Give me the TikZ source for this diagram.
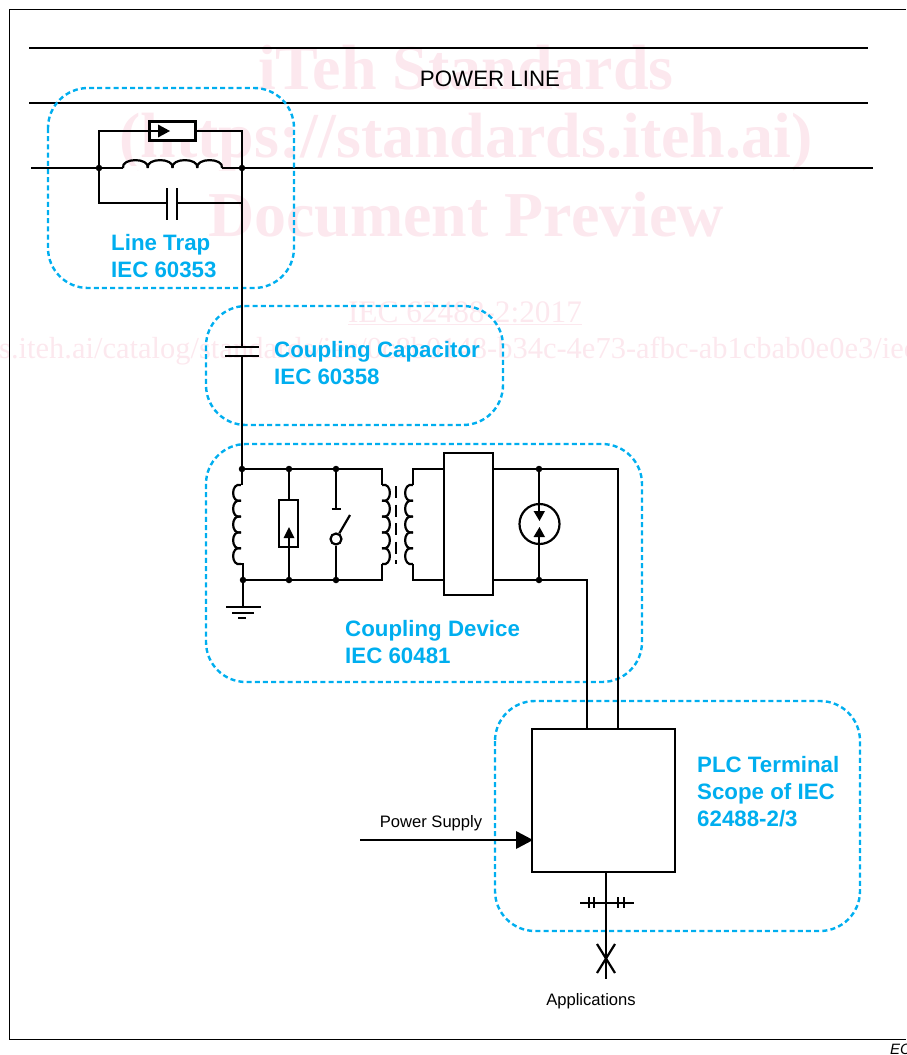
\documentclass[tikz,border=0pt]{standalone}
\usepackage{fontspec}
\setmainfont{Liberation Sans}
\newfontfamily\wmfont{Liberation Serif}
\usetikzlibrary{arrows.meta}
\definecolor{plcblue}{HTML}{00AEEF}
\definecolor{wm}{HTML}{FCE8EE}
\tikzset{
  wire/.style={draw=black,line width=2.2pt},
  junction/.style={circle,fill=black,inner sep=0pt,minimum size=6.5pt},
  zone/.style={draw=plcblue,line width=2.4pt,rounded corners=40pt,dash pattern=on 5pt off 3.2pt},
  zonelabel/.style={text=plcblue,font=\bfseries\fontsize{22.3}{27}\selectfont,align=left,anchor=north west,inner sep=0pt},
  plain/.style={font=\fontsize{16.6}{19}\selectfont,inner sep=0pt},
  whitebox/.style={draw=black,fill=white,line width=2.2pt,inner sep=0pt},
  wmbig/.style={text=wm,font=\wmfont\bfseries\fontsize{64}{64}\selectfont,inner sep=0pt},
  wmsmall/.style={text=wm,font=\wmfont\fontsize{31.3}{32}\selectfont,inner sep=0pt},
  wmurl/.style={text=wm,font=\wmfont\fontsize{30.5}{32}\selectfont,inner sep=0pt},
  tip/.style={fill=black,draw=none},
}
\newcommand{\humpsH}[4]{% x0,y,width,count  (humps go up)
  \foreach \k in {1,...,#4}{
    \draw[wire] ({#1+(\k-1)*#3},#2) .. controls ({#1+(\k-1)*#3-2},{#2-10.5}) and ({#1+\k*#3+2},{#2-10.5}) .. ({#1+\k*#3},#2);
  }}
\newcommand{\humpsV}[5]{% x,y0,height,count,bulge
  \foreach \k in {1,...,#4}{
    \draw[wire] (#1,{#2+(\k-1)*#3}) .. controls ({#1+#5},{#2+(\k-1)*#3-3}) and ({#1+#5},{#2+\k*#3+3}) .. (#1,{#2+\k*#3});
  }}
\begin{document}
\begin{tikzpicture}[x=1pt,y=-1pt]
\useasboundingbox (0,0) rectangle (906,1055);
\clip (0,0) rectangle (906,1055);
% watermark
\node[wmbig] (wm1) at (466,68) {iTeh Standards};
\node[wmbig] (wm2) at (466,142) {(https://standards.iteh.ai)};
\node[wmbig] (wm3) at (466,215) {Document Preview};
\node[wmsmall] (wm4) at (465,313) {\underline{IEC 62488-2:2017}};
\node[wmurl,anchor=west] (wm5) at (-1,351) {s.iteh.ai/catalog/standards/iec/0c8b0148-b34c-4e73-afbc-ab1cbab0e0e3/iec};
% frame
\coordinate (ftr) at (906,9);
\coordinate (ftl) at (9,9);
\coordinate (fbl) at (9,1039);
\coordinate (fbr) at (906,1039);
\draw[black,line width=0.9pt] (ftr) -- (ftl) -- (fbl) -- (fbr);
\node[font=\itshape\fontsize{15}{15}\selectfont,anchor=west,inner sep=0pt] (eclabel) at (890,1049) {EC};
% power lines
\coordinate (pl1a) at (29,48); \coordinate (pl1b) at (868,48);
\coordinate (pl2a) at (29,103); \coordinate (pl2b) at (868,103);
\coordinate (pl3a) at (31,168); \coordinate (pl3b) at (873,168);
\draw[wire] (pl1a) -- (pl1b);
\draw[wire] (pl2a) -- (pl2b);
\draw[wire] (pl3a) -- (pl3b);
\node[font=\fontsize{22.3}{22}\selectfont,inner sep=0pt] (powerline) at (490,79) {POWER LINE};
% zones
\draw[zone] (48,88) rectangle (294,288);
\draw[zone] (206,306) rectangle (503,425);
\draw[zone] (206,444) rectangle (642,682);
\draw[zone] (495,701) rectangle (860,931);
\node[zonelabel] (ltl) at (111,234.5) {Line Trap\\IEC 60353};
\node[zonelabel] (ccl) at (274,341.5) {Coupling Capacitor\\IEC 60358};
\node[zonelabel] (cdl) at (345,620.5) {Coupling Device\\IEC 60481};
\node[zonelabel] (plcl) at (697,756) {PLC Terminal\\Scope of IEC\\62488-2/3};
% line trap
\node[junction] (jl) at (99,168) {};
\node[junction] (jr) at (242,168) {};
\coordinate (tl) at (99,131); \coordinate (tr) at (242,131);
\coordinate (bl) at (99,203); \coordinate (br) at (242,203);
\draw[wire] (jl) -- (tl) -- (tr) -- (jr);
\draw[wire] (jl) -- (bl) -- (167,203);
\draw[wire] (177,203) -- (br);
\draw[wire] (167,188) -- (167,220);
\draw[wire] (177,188) -- (177,220);
\node[whitebox,minimum width=46pt,minimum height=19pt] (trapR) at (172.5,131) {};
\draw[wire] (trapR.west) -- (158,131);
\fill[tip] (158,124.5) -- (170,131) -- (158,137.5) -- cycle;
\draw[draw=white,line width=3.4pt] (123,168) -- (222,168);
\humpsH{123}{168}{24.75}{4}
% coupling capacitor and feed
\coordinate (capT) at (242,347); \coordinate (capB) at (242,356);
\draw[wire] (jr) -- (capT);
\draw[wire] (225,347) -- (259,347);
\draw[wire] (225,356) -- (259,356);
% coupling device
\node[junction] (a1) at (242,469) {};
\node[junction] (a2) at (289,469) {};
\node[junction] (a3) at (336,469) {};
\node[junction] (b1) at (243,580) {};
\node[junction] (b2) at (289,580) {};
\node[junction] (b3) at (336,580) {};
\draw[wire] (capB) -- (a1);
\coordinate (p1) at (382,469); \coordinate (p2) at (382,580);
\draw[wire] (a1) -- (a2) -- (a3) -- (p1) -- (382,485);
\draw[wire] (b1) -- (b2) -- (b3) -- (p2) -- (382,564);
\draw[wire] (a1) -- (242,485);
\draw[wire] (b1) -- (243,564) -- (241,564);
\humpsV{241}{485}{15.8}{5}{-10.5}
% resistor
\node[whitebox,minimum width=19pt,minimum height=47pt] (cdR) at (288.5,523.5) {};
\draw[wire] (a2) -- (a2 |- cdR.north);
\draw[wire] (b2) -- (289,538);
\fill[tip] (283.5,538) -- (289,527) -- (294.5,538) -- cycle;
% switch
\node[circle,draw=black,line width=2.2pt,minimum size=11pt,inner sep=0pt] (sw) at (336,539) {};
\coordinate (swT) at (336,509);
\coordinate (swB) at (350,515);
\draw[wire] (a3) -- (swT);
\draw[wire] (331.5,509) -- (341,509);
\draw[wire] (sw) -- (swB);
\draw[wire] (sw) -- (b3);
% transformer
\humpsV{382}{485}{15.8}{5}{10.5}
\humpsV{413}{485}{15.8}{5}{-10.5}
\draw[wire,dash pattern=on 12pt off 6.5pt] (396,486) -- (396,564);
% box
\node[whitebox,minimum width=49pt,minimum height=142pt] (cdBox) at (468.5,524) {};
\coordinate (s1) at (413,469); \coordinate (s2) at (413,580);
\draw[wire] (413,485) -- (s1) -- (cdBox.west |- s1);
\draw[wire] (413,564) -- (s2) -- (cdBox.west |- s2);
\node[junction] (c1) at (539,469) {};
\node[junction] (c2) at (539,580) {};
\coordinate (hi) at (618,469);
\coordinate (lo) at (587,580);
\node[whitebox,minimum width=143pt,minimum height=143pt] (term) at (603.5,800.5) {};
\draw[wire] (cdBox.east |- hi) -- (hi) -- (hi |- term.north);
\draw[wire] (cdBox.east |- lo) -- (lo) -- (lo |- term.north);
% gas tube
\node[circle,draw=black,line width=2.2pt,minimum size=40pt,inner sep=0pt] (tube) at (539.5,524) {};
\draw[wire] (c1) -- (539,511);
\draw[wire] (c2) -- (539,537);
\fill[tip] (533.5,511) -- (539.5,521) -- (545,511) -- cycle;
\fill[tip] (533.5,537) -- (539.5,527) -- (545,537) -- cycle;
% ground
\coordinate (gnd) at (243,607);
\draw[wire] (b1) -- (gnd);
\draw[wire] (226,607) -- (261,607);
\draw[wire] (232,613) -- (254,613);
\draw[wire] (238,618) -- (246,618);
% power supply
\coordinate (psS) at (360,840);
\draw[wire] (psS) -- (518,840);
\fill[tip] (516,831) -- (533,840) -- (516,849) -- cycle;
\node[plain] (pslabel) at (431,823) {Power Supply};
% applications bus
\coordinate (busEnd) at (606,979);
\draw[wire] (term.south -| busEnd) -- (busEnd);
\draw[wire] (580,903) -- (634,903);
\foreach \tx in {589,594,618,624}{\draw[wire] (\tx,897) -- (\tx,908);}
\draw[wire] (597,944) -- (615,973);
\draw[wire] (615,944) -- (597,973);
\node[plain] (applabel) at (591,1001) {Applications};
\end{tikzpicture}
\end{document}
